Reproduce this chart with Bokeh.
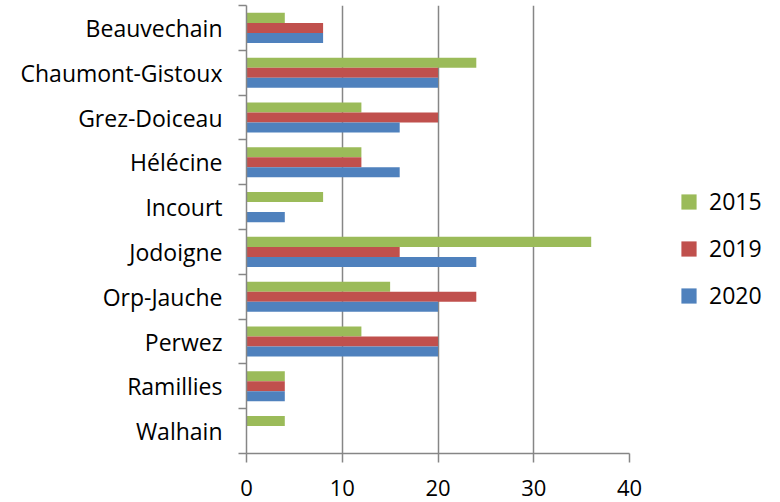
from bokeh.plotting import figure
from bokeh.models import (ColumnDataSource, Range1d, FixedTicker, Legend, LegendItem)
from bokeh.embed import file_html
from bokeh.resources import INLINE

communes = ["Beauvechain", "Chaumont-Gistoux", "Grez-Doiceau", "Hélécine", "Incourt",
            "Jodoigne", "Orp-Jauche", "Perwez", "Ramillies", "Walhain"]
v2015 = [4, 24, 12, 12, 8, 36, 15, 12, 4, 4]
v2019 = [8, 20, 20, 12, 0, 16, 24, 20, 4, 0]
v2020 = [8, 20, 16, 16, 4, 24, 20, 20, 4, 0]
years = ["2015", "2019", "2020"]
x_ticks = [0, 10, 20, 30, 40]

colors = ["#9BBB59", "#C0504D", "#4F81BD"]
FONT = "Open Sans"
n = len(communes)
centers = [n - i - 0.5 for i in range(n)]
bar_h = 0.224
offsets = [bar_h, 0.0, -bar_h]

p = figure(frame_width=383, frame_height=448, output_backend="svg", toolbar_location=None,
           x_range=Range1d(0, 40), y_range=Range1d(0, n),
           min_border_left=246, min_border_top=5, min_border_bottom=49, min_border_right=10)
p.outline_line_color = None
p.background_fill_color = "white"
p.border_fill_color = "white"

renderers = []
for vals, off, col in zip([v2015, v2019, v2020], offsets, colors):
    src = ColumnDataSource(dict(y=[c + off for c in centers], right=vals))
    r = p.hbar(y="y", right="right", left=0, height=bar_h, source=src,
               fill_color=col, line_color=None)
    renderers.append(r)

# x axis
p.xaxis.ticker = FixedTicker(ticks=x_ticks)
p.xaxis.axis_line_color = "#868686"
p.xaxis.axis_line_width = 1.5
p.xaxis.major_tick_line_color = "#868686"
p.xaxis.major_tick_line_width = 1.5
p.xaxis.major_tick_out = 9
p.xaxis.major_tick_in = 0
p.xaxis.minor_tick_line_color = None
p.xaxis.major_label_text_font = FONT
p.xaxis.major_label_text_font_size = "22px"
p.xaxis.major_label_text_color = "black"
p.xaxis.major_label_standoff = 17

# y axis
p.yaxis.ticker = FixedTicker(ticks=centers, minor_ticks=list(range(n + 1)))
p.yaxis.major_label_overrides = {c: name for c, name in zip(centers, communes)}
p.yaxis.axis_line_color = "#868686"
p.yaxis.axis_line_width = 1.5
p.yaxis.major_tick_line_color = None
p.yaxis.major_tick_out = 8
p.yaxis.major_tick_in = 0
p.yaxis.minor_tick_line_color = "#868686"
p.yaxis.minor_tick_line_width = 1.5
p.yaxis.minor_tick_out = 8
p.yaxis.minor_tick_in = 0
p.yaxis.major_label_text_font = FONT
p.yaxis.major_label_text_font_size = "23px"
p.yaxis.major_label_text_color = "black"
p.yaxis.major_label_standoff = 16

p.ygrid.grid_line_color = None
p.xgrid.ticker = FixedTicker(ticks=x_ticks[1:])
p.xgrid.grid_line_color = "#868686"
p.xgrid.grid_line_width = 1.5

legend = Legend(items=[LegendItem(label=y, renderers=[r]) for y, r in zip(years, renderers)],
                location=(50, 142), orientation="vertical")
legend.border_line_color = None
legend.background_fill_color = None
legend.padding = 0
legend.margin = 0
legend.spacing = 15
legend.glyph_width = 19
legend.glyph_height = 19
legend.label_standoff = 11
legend.label_text_font = FONT
legend.label_text_font_size = "23px"
legend.label_text_color = "black"
p.add_layout(legend, "right")

open("out.html", "w").write(file_html(p, INLINE))
